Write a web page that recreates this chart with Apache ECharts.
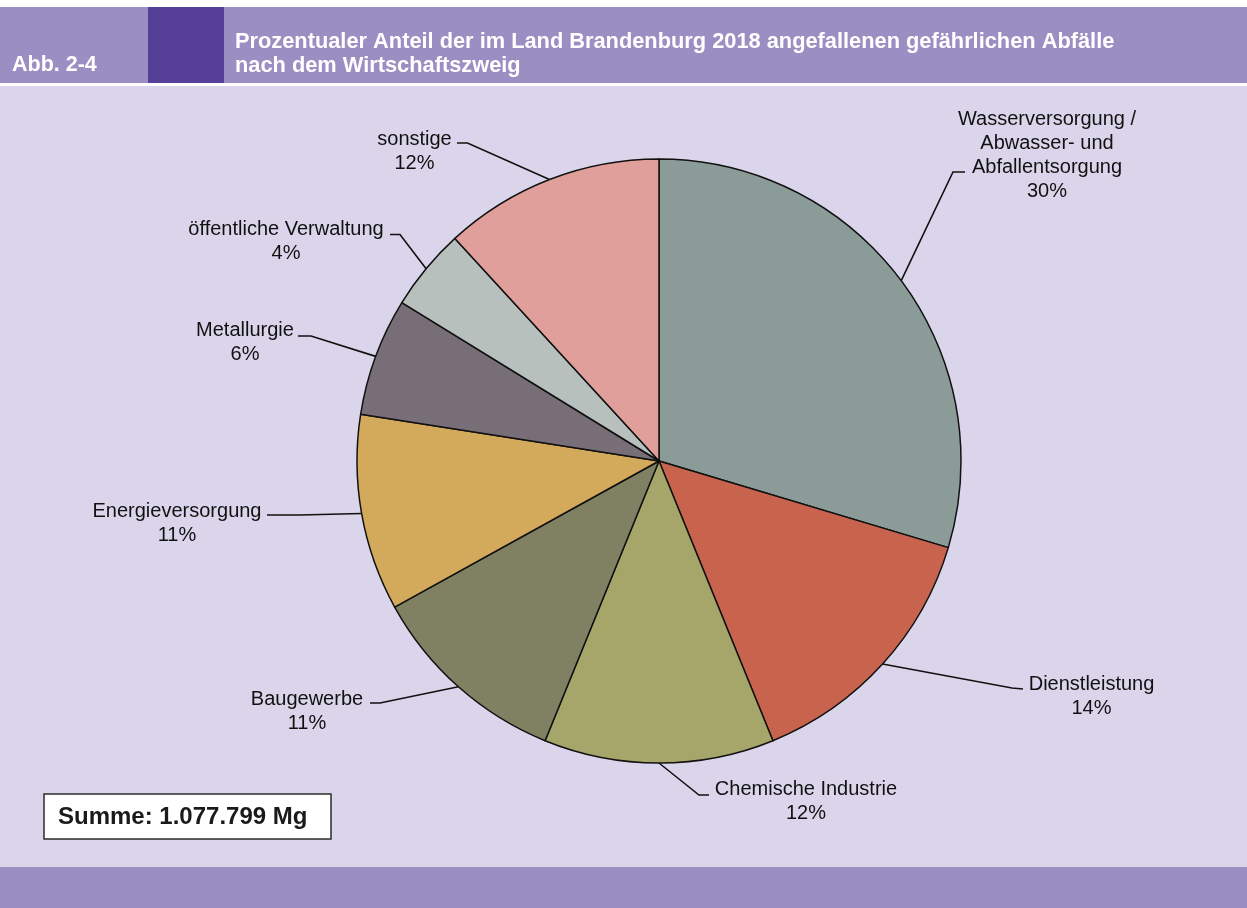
<!DOCTYPE html>
<html>
<head>
<meta charset="utf-8">
<script src="https://cdn.jsdelivr.net/npm/echarts@6/dist/echarts.min.js"></script>
<style>
html,body{margin:0;padding:0;background:#ffffff;}
#chart{width:1247px;height:908px;}
</style>
</head>
<body>
<div id="chart"></div>
<script>
// ---- data ----
const categories = [
  'Wasserversorgung /\nAbwasser- und\nAbfallentsorgung',
  'Dienstleistung',
  'Chemische Industrie',
  'Baugewerbe',
  'Energieversorgung',
  'Metallurgie',
  'öffentliche Verwaltung',
  'sonstige'
];
const shares = [29.6, 14.2, 12.3, 10.8, 10.5, 6.3, 4.4, 11.8];
const sliceColors = ['#8a9b98', '#c8634e', '#a7a66a', '#808163', '#d3a95c', '#786e77', '#b7c0bd', '#e09f9b'];
const figureNo = 'Abb. 2-4';
const titleText = 'Prozentualer Anteil der im Land Brandenburg 2018 angefallenen gefährlichen Abfälle\nnach dem Wirtschaftszweig';
const totalText = 'Summe: 1.077.799 Mg';

// ---- layout (label placement: text centre, elbow, line end) ----
const labelPlacement = [
  {text: [1047, 155],   elbow: [953, 172],   end: [965, 172]},
  {text: [1091.5, 696], elbow: [1012, 688],  end: [1023, 689]},
  {text: [806, 801],    elbow: [699, 795],   end: [709, 795]},
  {text: [307, 711],    elbow: [380, 703],   end: [370, 703]},
  {text: [177, 523],    elbow: [300, 515],   end: [267, 515]},
  {text: [245, 342],    elbow: [311, 336],   end: [298, 336]},
  {text: [286, 241.5],  elbow: [400, 234.5], end: [390, 234.5]},
  {text: [414.5, 151],  elbow: [467.5, 143], end: [457, 143]}
];
const CX = 659, CY = 461, R = 302;
const FONT = '"Liberation Sans", Arial, Helvetica, sans-serif';

const chart = echarts.init(document.getElementById('chart'), null, {renderer: 'canvas'});

const total = shares.reduce((a, b) => a + b, 0);
function edgePoint(i) {
  let cum = 0;
  for (let k = 0; k < i; k++) cum += shares[k];
  const mid = (cum + shares[i] / 2) / total * Math.PI * 2;
  return [CX + R * Math.sin(mid), CY - R * Math.cos(mid)];
}

const option = {
  animation: false,
  backgroundColor: '#ffffff',
  graphic: [
    {type: 'rect', z: -10, shape: {x: 0, y: 7, width: 1247, height: 76}, style: {fill: '#9b8ec3'}},
    {type: 'rect', z: -9, shape: {x: 148, y: 7, width: 76, height: 76}, style: {fill: '#563f98'}},
    {type: 'rect', z: -10, shape: {x: 0, y: 86, width: 1247, height: 781}, style: {fill: '#dbd5eb'}},
    {type: 'rect', z: -10, shape: {x: 0, y: 867, width: 1247, height: 41}, style: {fill: '#9b8ec3'}},
    {type: 'text', z: 5, style: {x: 12, y: 65, text: figureNo, fill: '#ffffff',
      font: 'bold 21.5px ' + FONT, verticalAlign: 'middle', align: 'left'}},
    {type: 'text', z: 5, style: {x: 235, y: 54, text: titleText, fill: '#ffffff',
      font: 'bold 21.8px ' + FONT, lineHeight: 24, verticalAlign: 'middle', align: 'left'}},
    {type: 'rect', z: 5, shape: {x: 44, y: 794, width: 287, height: 45},
      style: {fill: '#ffffff', stroke: '#2b2b2b', lineWidth: 1.5}},
    {type: 'text', z: 6, style: {x: 58, y: 817, text: totalText, fill: '#1a1a1a',
      font: 'bold 24px ' + FONT, verticalAlign: 'middle', align: 'left'}}
  ],
  series: [{
    type: 'pie',
    center: [CX, CY],
    radius: R,
    startAngle: 90,
    clockwise: true,
    avoidLabelOverlap: false,
    silent: true,
    emphasis: {disabled: true},
    itemStyle: {borderColor: '#111111', borderWidth: 1.5},
    label: {
      show: true,
      position: 'outside',
      color: '#111111',
      fontFamily: FONT,
      fontSize: 20,
      lineHeight: 24,
      formatter: p => p.name + '\n' + Math.round(p.value) + '%'
    },
    labelLine: {show: true, length: 15, length2: 10, lineStyle: {color: '#111111', width: 1.6}},
    labelLayout: function (params) {
      const i = params.dataIndex;
      const pl = labelPlacement[i];
      const start = (params.labelLinePoints && params.labelLinePoints[0]) || edgePoint(i);
      return {
        x: pl.text[0], y: pl.text[1], align: 'center', verticalAlign: 'middle',
        labelLinePoints: [start, pl.elbow, pl.end]
      };
    },
    data: categories.map((c, i) => ({name: c, value: shares[i], itemStyle: {color: sliceColors[i]}}))
  }]
};
chart.setOption(option);
</script>
</body>
</html>
